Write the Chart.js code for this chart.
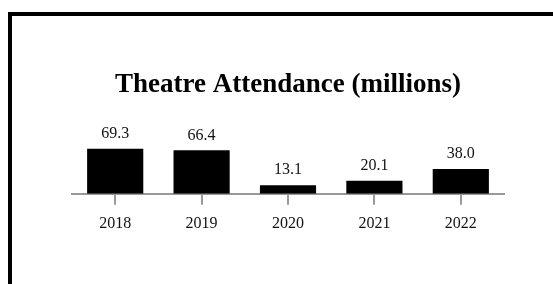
<!DOCTYPE html>
<html>
<head>
<meta charset="utf-8">
<script src="https://cdn.jsdelivr.net/npm/chart.js@4"></script>
<style>
  html, body { margin: 0; padding: 0; background: #fff; overflow: hidden; }
  .frame { position: absolute; left: 8px; top: 12px; width: 700px; height: 400px; border: 4px solid #000; }
  #chart { position: absolute; left: 0; top: 0; }
</style>
</head>
<body>
<div class="frame"></div>
<canvas id="chart" width="553" height="284"></canvas>
<script>
const years = ['2018', '2019', '2020', '2021', '2022'];
const attendance = [69.3, 66.4, 13.1, 20.1, 38.0];

const serif = '"Liberation Serif", "Times New Roman", serif';

// value labels above the bars
const barLabels = {
  id: 'barLabels',
  afterDatasetsDraw(chart) {
    const ctx = chart.ctx;
    const meta = chart.getDatasetMeta(0);
    ctx.save();
    ctx.font = '16px ' + serif;
    ctx.fillStyle = '#111';
    ctx.textAlign = 'center';
    ctx.textBaseline = 'middle';
    meta.data.forEach((bar, i) => {
      ctx.fillText(attendance[i].toFixed(1), bar.x, bar.y - 15);
    });
    ctx.restore();
  }
};

new Chart(document.getElementById('chart'), {
  type: 'bar',
  data: {
    labels: years,
    datasets: [{
      data: attendance,
      backgroundColor: '#000',
      borderWidth: 0,
      barPercentage: 0.65,
      categoryPercentage: 1
    }]
  },
  options: {
    responsive: false,
    animation: false,
    layout: { padding: { left: 72, right: 49, top: 0, bottom: 42 } },
    plugins: {
      legend: { display: false },
      tooltip: { enabled: false },
      title: {
        display: true,
        text: 'Theatre Attendance (millions)',
        color: '#000',
        font: { family: serif, size: 27, weight: 'bold' },
        padding: { top: 69, bottom: 47 }
      }
    },
    scales: {
      y: { display: false, min: 0, max: Math.max(...attendance) },
      x: {
        border: { color: '#999', width: 2 },
        grid: { offset: false, drawOnChartArea: false, drawTicks: true, tickLength: 11, tickColor: '#999', lineWidth: 2 },
        ticks: { color: '#111', padding: 9, font: { family: serif, size: 16 } }
      }
    }
  },
  plugins: [barLabels]
});
</script>
</body>
</html>
